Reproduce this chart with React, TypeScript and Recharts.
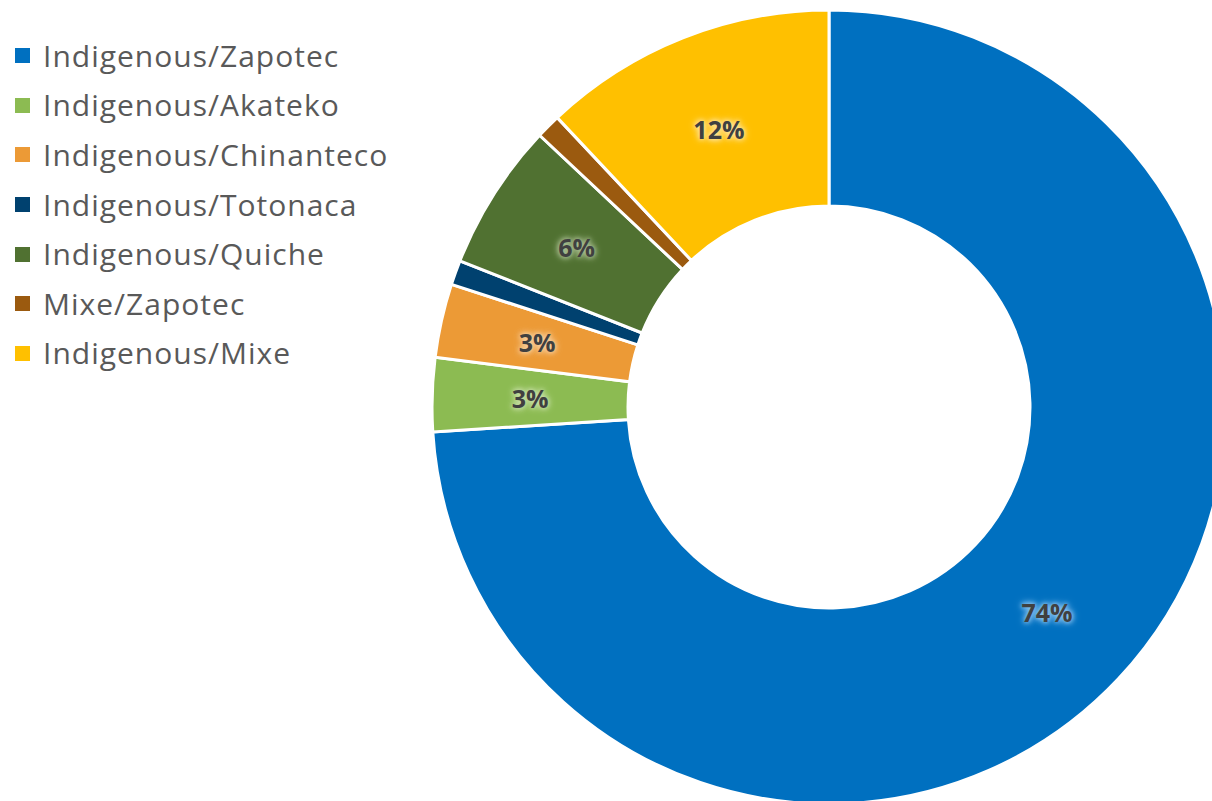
import { PieChart, Pie, Cell } from 'recharts';

const GROUPS = [
  'Indigenous/Zapotec',
  'Indigenous/Akateko',
  'Indigenous/Chinanteco',
  'Indigenous/Totonaca',
  'Indigenous/Quiche',
  'Mixe/Zapotec',
  'Indigenous/Mixe',
];
const SHARES = [74, 3, 3, 1, 6, 1, 12];
const COLORS = ['#0070C0', '#8CBB52', '#EC9A36', '#00416F', '#507131', '#9B5A0F', '#FFC000'];
const GLOWS = ['#8CC4F0', '#C8E0A8', '#F6CFA0', '', '#A9BE92', '', '#FFE49A'];
// small slices carry no label in the original
const SHOW_LABEL = [true, true, true, false, true, false, true];

const data = GROUPS.map((name, i) => ({ name, value: SHARES[i] }));
const total = SHARES.reduce((a, b) => a + b, 0);

const RAD = Math.PI / 180;

function SliceLabel(props: any) {
  const { cx, cy, midAngle, innerRadius, outerRadius, value, index } = props;
  if (!SHOW_LABEL[index]) return null;
  const r = (innerRadius + outerRadius) / 2;
  const x = cx + r * Math.cos(-midAngle * RAD);
  const y = cy + r * Math.sin(-midAngle * RAD);
  const glow = GLOWS[index];
  return (
    <text
      x={x}
      y={y}
      textAnchor="middle"
      dominantBaseline="central"
      fill="#404040"
      style={{
        fontFamily: '"Open Sans", sans-serif',
        fontWeight: 700,
        fontSize: 25,
        textShadow: `0 0 4px ${glow}, 0 0 6px ${glow}, 0 0 8px ${glow}`,
      }}
    >
      {`${Math.round((value / total) * 100)}%`}
    </text>
  );
}

function LegendList() {
  return (
    <div
      style={{
        position: 'absolute',
        left: 15,
        top: 31,
        fontFamily: '"Open Sans", sans-serif',
        fontSize: 30,
        letterSpacing: 1,
        color: '#595959',
      }}
    >
      {GROUPS.map((g, i) => (
        <div key={g} style={{ display: 'flex', alignItems: 'center', height: 49.6 }}>
          <div style={{ width: 15, height: 15, background: COLORS[i], marginRight: 13 }} />
          <span style={{ lineHeight: 1 }}>{g}</span>
        </div>
      ))}
    </div>
  );
}

export default function App() {
  return (
    <div style={{ position: 'absolute', left: 0, top: 0, width: 1212, height: 801, background: '#fff', overflow: 'hidden' }}>
      <PieChart width={1212} height={801} margin={{ top: 0, right: 0, bottom: 0, left: 0 }}>
        <Pie
          data={data}
          dataKey="value"
          nameKey="name"
          cx={829}
          cy={407}
          innerRadius={201}
          outerRadius={397}
          startAngle={90}
          endAngle={-270}
          stroke="#ffffff"
          strokeWidth={3}
          label={SliceLabel}
          labelLine={false}
          isAnimationActive={false}
        >
          {data.map((d, i) => (
            <Cell key={d.name} fill={COLORS[i]} />
          ))}
        </Pie>
      </PieChart>
      <LegendList />
    </div>
  );
}
